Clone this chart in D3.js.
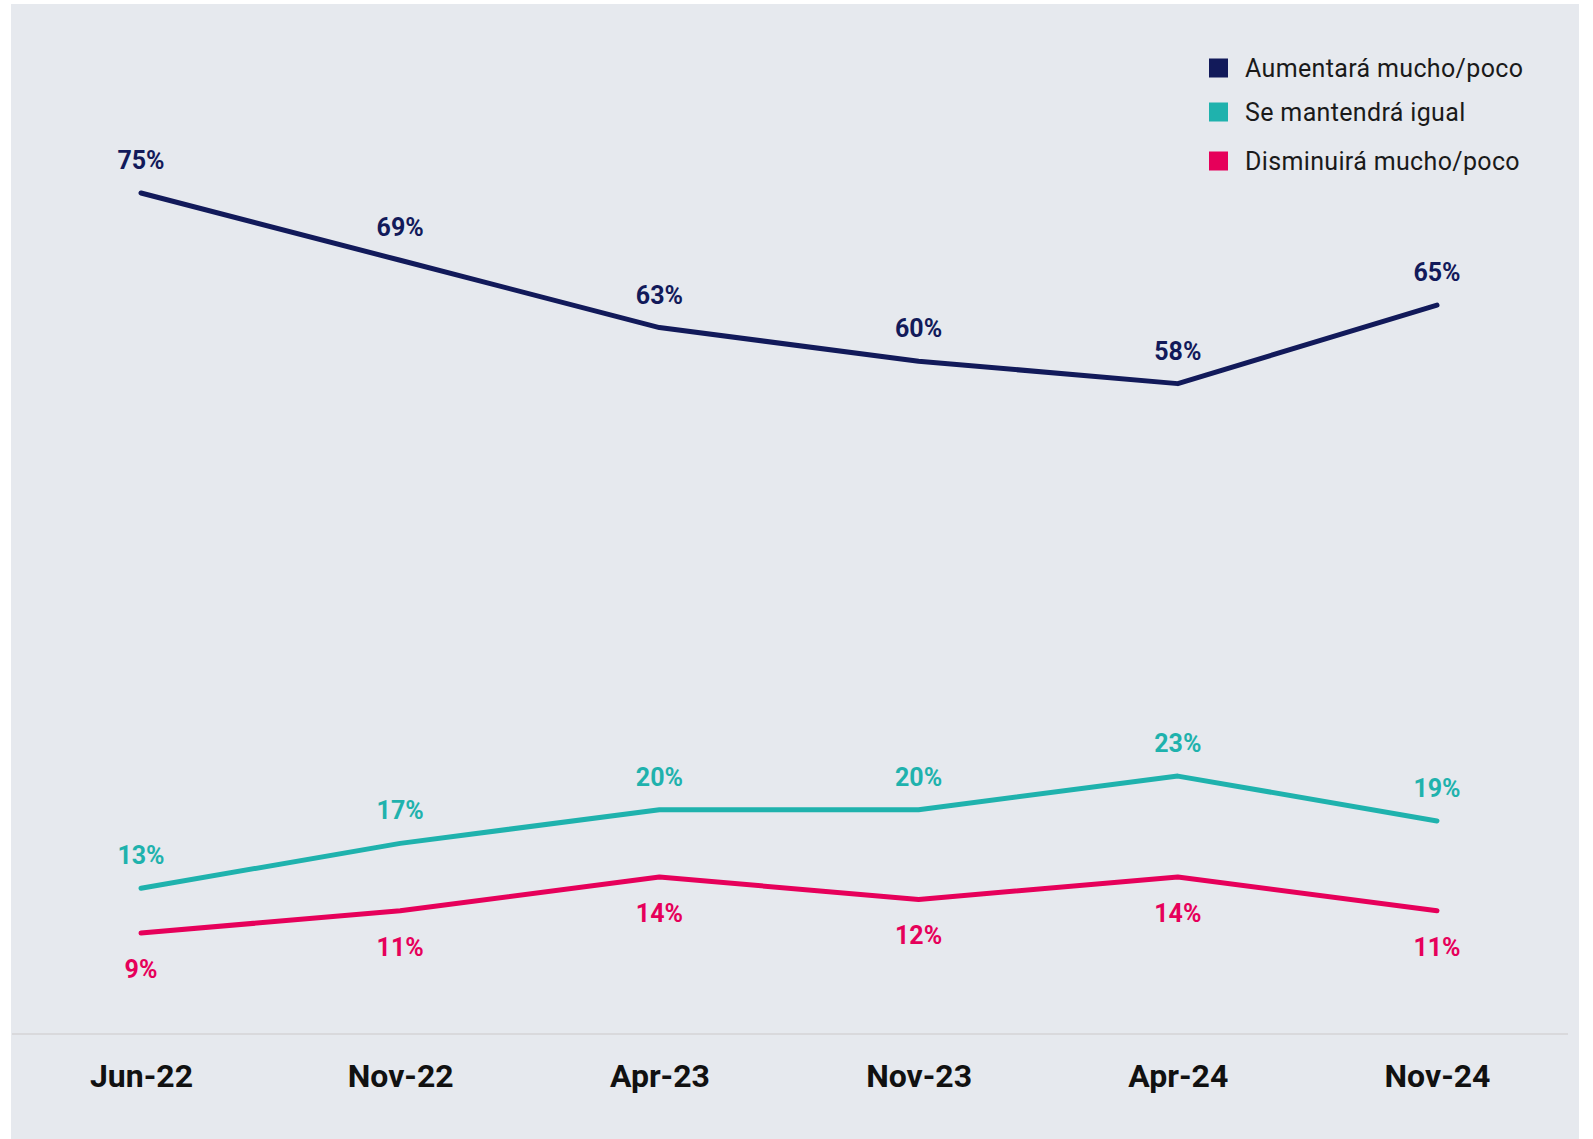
<!DOCTYPE html>
<html>
<head>
<meta charset="utf-8">
<script src="https://cdn.jsdelivr.net/npm/d3@7"></script>
<style>
  body { margin: 0; background: #fff; }
  svg { display: block; font-family: Roboto, "Noto Sans", sans-serif; }
</style>
</head>
<body>
<div id="chart"></div>
<script>
const periods = ["Jun-22", "Nov-22", "Apr-23", "Nov-23", "Apr-24", "Nov-24"];
const aumentara = [75, 69, 63, 60, 58, 65];
const igual = [13, 17, 20, 20, 23, 19];
const disminuira = [9, 11, 14, 12, 14, 11];

const seriesNames = ["Aumentará mucho/poco", "Se mantendrá igual", "Disminuirá mucho/poco"];
const seriesColors = ["#121a5a", "#1fb2ad", "#e6005a"];

const width = 1593, height = 1139;

const svg = d3.select("#chart").append("svg")
  .attr("width", width)
  .attr("height", height);

// panel background
svg.append("rect")
  .attr("x", 11).attr("y", 4)
  .attr("width", 1568).attr("height", 1135)
  .attr("fill", "#e6e9ee");

const x = d3.scalePoint()
  .domain(periods)
  .range([141, 1437]);

const y = d3.scaleLinear()
  .domain([0, 75])
  .range([1034, 193]);

// baseline
svg.append("line")
  .attr("x1", 12).attr("x2", 1568)
  .attr("y1", y(0)).attr("y2", y(0))
  .attr("stroke", "#d9d9dc")
  .attr("stroke-width", 2);

// x axis labels
const xAxis = svg.append("g")
  .attr("transform", `translate(0, ${y(0)})`)
  .call(d3.axisBottom(x).tickSize(0).tickPadding(0));
xAxis.select(".domain").remove();
xAxis.selectAll("text")
  .attr("y", 53)
  .attr("dy", null)
  .attr("font-family", "Roboto, sans-serif")
  .attr("font-size", 32)
  .attr("font-weight", 700)
  .attr("fill", "#111");

const line = d3.line()
  .x((d, i) => x(periods[i]))
  .y(d => y(d));

const series = [
  { name: seriesNames[0], values: aumentara, color: seriesColors[0], dy: -24 },
  { name: seriesNames[1], values: igual, color: seriesColors[1], dy: -24 },
  { name: seriesNames[2], values: disminuira, color: seriesColors[2], dy: 45 }
];

series.forEach(s => {
  svg.append("path")
    .datum(s.values)
    .attr("fill", "none")
    .attr("stroke", s.color)
    .attr("stroke-width", 5)
    .attr("stroke-linecap", "round")
    .attr("stroke-linejoin", "round")
    .attr("d", line);

  svg.append("g")
    .selectAll("text")
    .data(s.values)
    .join("text")
    .attr("x", (d, i) => x(periods[i]))
    .attr("y", d => y(d) + s.dy)
    .attr("text-anchor", "middle")
    .attr("font-size", 25)
    .attr("font-weight", 700)
    .attr("fill", s.color)
    .text(d => d + "%");
});

// legend
const legendY = [68, 112, 161];
const legend = svg.append("g")
  .selectAll("g")
  .data(series)
  .join("g")
  .attr("transform", (d, i) => `translate(1209, ${legendY[i]})`);

legend.append("rect")
  .attr("x", 0).attr("y", -9.5)
  .attr("width", 19).attr("height", 19)
  .attr("fill", d => d.color);

legend.append("text")
  .attr("x", 36)
  .attr("y", 0)
  .attr("dy", "0.35em")
  .attr("font-size", 25)
  .attr("letter-spacing", 0.35)
  .attr("fill", "#1a1a1a")
  .text(d => d.name);
</script>
</body>
</html>
